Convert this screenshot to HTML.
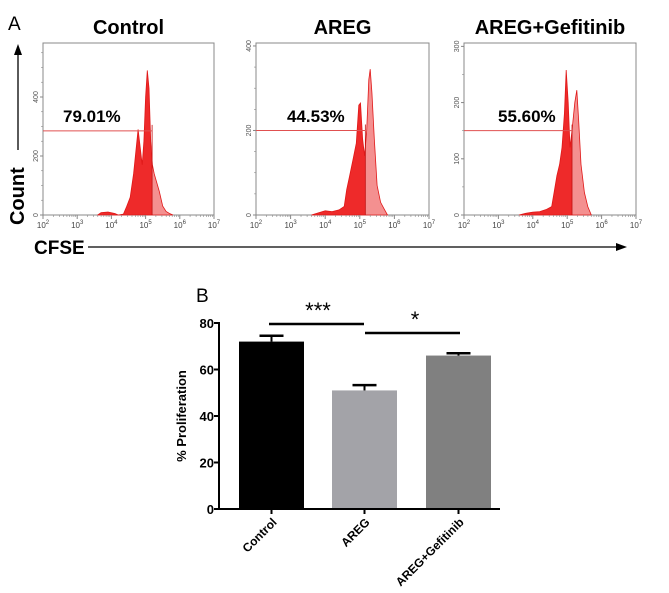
<!DOCTYPE html>
<html><head><meta charset="utf-8"><style>
body{margin:0;background:#fff;}
svg{display:block;font-family:"Liberation Sans",Arial,sans-serif;}
</style></head><body>
<svg id="fig" width="669" height="593" viewBox="0 0 669 593" xmlns="http://www.w3.org/2000/svg">
<text x="8" y="30" font-size="19">A</text>
<text x="196" y="302" font-size="19">B</text>
<g id="hists"></g>
<line x1="18" y1="150" x2="18" y2="54" stroke="#000" stroke-width="1.3"/>
<polygon points="18,44 14,55 22,55" fill="#000"/>
<text transform="translate(24,225) rotate(-90)" font-size="20" font-weight="bold">Count</text>
<text x="34" y="254" font-size="19" font-weight="bold">CFSE</text>
<line x1="88" y1="247" x2="618" y2="247" stroke="#000" stroke-width="1.3"/>
<polygon points="627,247 616,243 616,251" fill="#000"/>
<g id="bars"></g>
</svg>
<script>
const NS='http://www.w3.org/2000/svg';
function mk(t,a,p){const e=document.createElementNS(NS,t);for(const k in a)e.setAttribute(k,a[k]);p.appendChild(e);return e;}
// ---- histogram data ----
const panelTitles=['Control','AREG','AREG+Gefitinib'];
const panelPercents=['79.01%','44.53%','55.60%'];
const panelYMax=[583,407,306];
const panelYTicks=[[0,200,400],[0,200,400],[0,100,200,300]];
const panelGateLog=[5.19,5.16,5.14];
const panelGateCount=[285,200,150];
const ctrlLog=[3.6,3.7,3.9,4.1,4.2,4.35,4.45,4.55,4.65,4.72,4.78,4.85,4.9,4.95,5.0,5.05,5.1,5.15,5.2,5.25,5.3,5.4,5.5,5.6,5.7,5.8];
const ctrlCount=[0,8,10,5,0,3,30,60,140,220,290,220,170,250,400,490,430,250,170,140,120,80,30,12,5,0];
const aregLog=[3.6,3.8,4.0,4.2,4.4,4.55,4.62,4.7,4.8,4.9,4.97,5.02,5.08,5.14,5.2,5.26,5.3,5.35,5.42,5.5,5.6,5.7,5.8];
const aregCount=[0,5,10,8,12,20,60,90,130,170,260,265,180,140,200,320,345,290,180,70,30,15,0];
const gefLog=[3.6,3.8,4.0,4.2,4.4,4.55,4.62,4.7,4.78,4.85,4.92,4.97,5.03,5.08,5.14,5.22,5.28,5.33,5.4,5.5,5.6,5.7];
const gefCount=[0,3,5,6,10,15,40,70,90,120,180,258,200,120,150,200,222,170,90,40,15,0];
const histLogs=[ctrlLog,aregLog,gefLog];
const histCounts=[ctrlCount,aregCount,gefCount];
const boxes=[[43,214],[256,429],[464,636]];
const TOP=43,BOT=215;
const H=document.getElementById('hists');
for(let p=0;p<3;p++){
  const [x0,x1]=boxes[p];
  const sx=l=>x0+(l-2)/5*(x1-x0);
  const sy=c=>BOT-c/panelYMax[p]*(BOT-TOP);
  const g=mk('g',{},H);
  
  
  const t=mk('text',{x:(x0+x1)/2,y:34,'font-size':20,'font-weight':'bold','text-anchor':'middle'},g);t.textContent=panelTitles[p];
  
  
  const r=mk('rect',{x:x0,y:TOP,width:x1-x0,height:BOT-TOP,fill:'none',stroke:'#888','stroke-width':1},g);
  
  
  const L=histLogs[p],C=histCounts[p];
  let d='M'+sx(L[0])+','+BOT;
  for(let i=0;i<L.length;i++)d+=' L'+sx(L[i]).toFixed(1)+','+sy(C[i]).toFixed(1);
  d+=' L'+sx(L[L.length-1])+','+BOT+' Z';
  const gx=sx(panelGateLog[p]);
  const cid='clipL'+p,cid2='clipR'+p;
  const cp=mk('clipPath',{id:cid},g);mk('rect',{x:x0,y:TOP,width:gx-x0,height:BOT-TOP},cp);
  const cp2=mk('clipPath',{id:cid2},g);mk('rect',{x:gx,y:TOP,width:x1-gx,height:BOT-TOP},cp2);
  const a=mk('path',{d:d,fill:'#ee2a2a','clip-path':'url(#'+cid+')'},g);
  
  
  const b=mk('path',{d:d,fill:'#f49090','clip-path':'url(#'+cid2+')'},g);
  
  
  const o=mk('path',{d:d,fill:'none',stroke:'#e01818','stroke-width':0.8},g);
  
  
  mk('line',{x1:gx,y1:BOT,x2:gx,y2:sy(panelGateCount[p])-6,stroke:'#c01010','stroke-width':0.8},g);
  const gl=mk('line',{x1:x0,y1:sy(panelGateCount[p]),x2:gx,y2:sy(panelGateCount[p]),stroke:'#e05050','stroke-width':1},g);
  
  
  const pt=mk('text',{x:x0+(p==0?20:p==1?31:34),y:122,'font-size':17,'font-weight':'bold'},g);pt.textContent=panelPercents[p];
  
  
  panelYTicks[p].forEach(v=>{const y=sy(v);mk('line',{x1:x0-3,y1:y,x2:x0,y2:y,stroke:'#888'},g);
    const tt=mk('text',{transform:`translate(${x0-5},${y}) rotate(-90)`,'font-size':7,'text-anchor':'middle',fill:'#555'},g);tt.textContent=v;
    
    });
  for(let v=50;v<panelYMax[p];v+=50)mk('line',{x1:x0-2,y1:sy(v),x2:x0,y2:sy(v),stroke:'#888','stroke-width':0.6},g);
  for(let e=2;e<=7;e++){const x=sx(e);mk('line',{x1:x,y1:BOT,x2:x,y2:BOT+4,stroke:'#888'},g);
    const tt=mk('text',{x:x,y:BOT+13,'font-size':8,'text-anchor':'middle',fill:'#444'},g);
    tt.innerHTML='10<tspan dy="-4" font-size="6">'+e+'</tspan>';
    
    
    if(e<7)for(let k=2;k<10;k++){const xx=sx(e+Math.log10(k));mk('line',{x1:xx,y1:BOT,x2:xx,y2:BOT+2,stroke:'#888','stroke-width':0.6},g);}}
}
// ---- bar chart data ----
const barCategories=['Control','AREG','AREG+Gefitinib'];
const barValues=[72,51,66];
const barErrors=[2.5,2.3,1];
const barColors=['#000000','#a3a3a8','#808080'];
const yTicks=[0,20,40,60,80];
const B=document.getElementById('bars');
const AX=219,Y0=509,Y80=323;
const vy=v=>Y0-v/80*(Y0-Y80);
const barLeft=[239,332,426],barW=65;
yTicks.forEach(v=>{mk('line',{x1:AX-5,y1:vy(v),x2:AX,y2:vy(v),stroke:'#000','stroke-width':2},B);
  const t=mk('text',{x:AX-5,y:vy(v)+5,'font-size':13,'font-weight':'bold','text-anchor':'end'},B);t.textContent=v;
  
  });
barCategories.forEach((c,i)=>{
  const x=barLeft[i],v=barValues[i],cx=x+barW/2;
  const r=mk('rect',{x:x,y:vy(v),width:barW,height:Y0-vy(v),fill:barColors[i]},B);
  
  
  const e=vy(v+barErrors[i]);
  mk('line',{x1:cx,y1:vy(v),x2:cx,y2:e,stroke:'#000','stroke-width':2},B);
  const eb=mk('line',{x1:cx-12,y1:e,x2:cx+12,y2:e,stroke:'#000','stroke-width':2.5},B);
  
  
  mk('line',{x1:cx,y1:Y0,x2:cx,y2:Y0+5,stroke:'#000','stroke-width':2},B);
  const t=mk('text',{transform:`translate(${cx+6},${Y0+14}) rotate(-45)`,'font-size':12,'font-weight':'bold','text-anchor':'end'},B);t.textContent=c;
  
  
});
mk('line',{x1:AX,y1:Y80-1,x2:AX,y2:Y0+1,stroke:'#000','stroke-width':2},B);
mk('line',{x1:AX-1,y1:Y0,x2:500,y2:Y0,stroke:'#000','stroke-width':2},B);
const yl=mk('text',{transform:'translate(186,416) rotate(-90)','font-size':13,'font-weight':'bold','text-anchor':'middle'},B);yl.textContent='% Proliferation';


const s1=mk('line',{x1:269,y1:324,x2:364,y2:324,stroke:'#000','stroke-width':2.5},B);


const s2=mk('line',{x1:365,y1:333,x2:460,y2:333,stroke:'#000','stroke-width':2.5},B);


const st1=mk('text',{x:318,y:318,'font-size':22,'text-anchor':'middle'},B);st1.textContent='***';


const st2=mk('text',{x:415,y:327,'font-size':22,'text-anchor':'middle'},B);st2.textContent='*';


</script>
</body></html>
